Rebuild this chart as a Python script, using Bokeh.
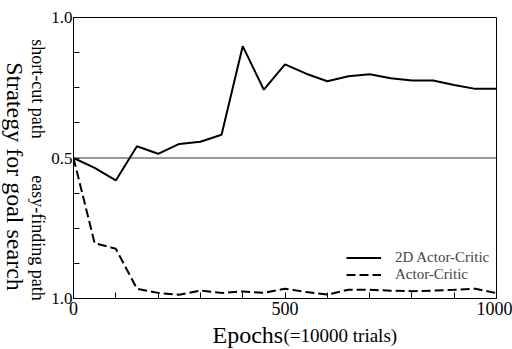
import math
from bokeh.plotting import figure
from bokeh.models import Range1d, FixedTicker, Span, Label, Legend, LegendItem
from bokeh.layouts import row, column
from bokeh.embed import file_html
from bokeh.resources import INLINE

# ---- data ----
epochs = [0, 50, 100, 150, 200, 250, 300, 350, 400, 450, 500,
          550, 600, 650, 700, 750, 800, 850, 900, 950, 1000]
actor_critic_2d = [0.50, 0.465, 0.42, 0.542, 0.515, 0.55, 0.558, 0.583, 0.898, 0.743, 0.833,
                   0.80, 0.773, 0.791, 0.798, 0.784, 0.776, 0.776, 0.76, 0.746, 0.746]
actor_critic = [0.50, 0.197, 0.177, 0.035, 0.02, 0.013, 0.028, 0.02, 0.025, 0.02, 0.035,
                0.023, 0.014, 0.031, 0.031, 0.028, 0.026, 0.028, 0.031, 0.035, 0.019]
series_names = ["2D Actor-Critic", "Actor-Critic"]
y_major = [0.0, 0.5, 1.0]
y_major_labels = ["1.0", "0.5", "1.0"]
y_minor = [0.125, 0.25, 0.375, 0.625, 0.75, 0.875]
x_major = [0, 500, 1000]
x_minor = [100, 200, 300, 400, 600, 700, 800, 900]
y_title = "Strategy for goal search"
y_upper = "short-cut path"
y_lower = "easy-finding path"
x_title = "Epochs"
x_title_note = "(=10000 trials)"

FONT = "Liberation Serif"

LEFT_W = 47
TOTAL_W = 512
TOTAL_H = 349
MAIN_W = TOTAL_W - LEFT_W
MAIN_H = 320
BOTTOM_H = TOTAL_H - MAIN_H

# ---- main plot ----
x_range = Range1d(0, 1000)
p = figure(width=MAIN_W, height=MAIN_H, x_range=x_range, y_range=Range1d(0, 1),
           output_backend="svg", toolbar_location=None, title=None,
           min_border_left=26, min_border_right=16, min_border_top=17, min_border_bottom=22)
p.xgrid.visible = False
p.ygrid.visible = False
p.background_fill_color = "white"
p.border_fill_color = "white"
p.outline_line_color = "black"
p.outline_line_width = 1
p.outline_line_alpha = 1.0

p.yaxis.ticker = FixedTicker(ticks=y_major, minor_ticks=y_minor)
p.yaxis.major_label_overrides = {t: l for t, l in zip(y_major, y_major_labels)}
p.xaxis.ticker = FixedTicker(ticks=x_major, minor_ticks=x_minor)
for ax in (p.xaxis, p.yaxis):
    ax.major_tick_in = 6
    ax.major_tick_out = 0
    ax.minor_tick_in = 6
    ax.minor_tick_out = 0
    ax.axis_line_color = "black"
    ax.major_tick_line_color = "black"
    ax.minor_tick_line_color = "black"
    ax.major_label_text_font = FONT
    ax.major_label_text_color = "black"
    ax.axis_label = None
p.yaxis.major_label_text_font_size = "17px"
p.xaxis.major_label_text_font_size = "18px"
p.yaxis.major_label_standoff = 1
p.xaxis.major_label_standoff = 3

p.add_layout(Span(location=0.5, dimension="width", line_color="#333333", line_width=1))

r1 = p.line(epochs, actor_critic_2d, line_color="black", line_width=2)
r2 = p.line(epochs, actor_critic, line_color="black", line_width=2, line_dash="9 4")

legend = Legend(items=[LegendItem(label=series_names[0], renderers=[r1]),
                       LegendItem(label=series_names[1], renderers=[r2])],
                location=(273, 15), padding=0, margin=0, spacing=-2,
                glyph_width=35, glyph_height=15, label_height=15, label_standoff=14,
                label_text_font=FONT, label_text_font_size="15px",
                border_line_color=None, background_fill_alpha=0)
p.add_layout(legend)

# ---- left strip with the y-axis titles (page pixel coordinates) ----
left = figure(width=LEFT_W, height=TOTAL_H, x_range=Range1d(0, LEFT_W), y_range=Range1d(0, TOTAL_H),
              output_backend="svg", toolbar_location=None, title=None,
              x_axis_type=None, y_axis_type=None, min_border=0,
              outline_line_color=None, border_fill_color="white", background_fill_color="white")
left.add_layout(Label(x=14, y=TOTAL_H - 176, text=y_title,
                      angle=-math.pi / 2, text_align="center", text_baseline="middle",
                      text_font=FONT, text_font_size="24px", text_color="black"))
left.add_layout(Label(x=37, y=TOTAL_H - 88.5, text=y_upper,
                      angle=-math.pi / 2, text_align="center", text_baseline="middle",
                      text_font=FONT, text_font_size="18px", text_color="black"))
left.add_layout(Label(x=37, y=TOTAL_H - 237.5, text=y_lower,
                      angle=-math.pi / 2, text_align="center", text_baseline="middle",
                      text_font=FONT, text_font_size="18px", text_color="black"))

# ---- bottom strip with the x-axis title (its frame lines up with the main frame) ----
bottom = figure(width=MAIN_W, height=BOTTOM_H, x_range=x_range, y_range=Range1d(0, BOTTOM_H),
                output_backend="svg", toolbar_location=None, title=None,
                x_axis_type=None, y_axis_type=None, min_border=0,
                outline_line_color=None, border_fill_color="white", background_fill_color="white")
px_per_unit = 423.0 / 1000.0
title_x = (212 - 73) / px_per_unit
bottom.add_layout(Label(x=title_x, y=15, text=x_title,
                        text_align="left", text_baseline="middle",
                        text_font=FONT, text_font_size="24px", text_color="black"))
bottom.add_layout(Label(x=title_x + 71 / px_per_unit, y=14, text=x_title_note,
                        text_align="left", text_baseline="middle",
                        text_font=FONT, text_font_size="19px", text_color="black"))

layout = row(left, column(p, bottom, spacing=0), spacing=0)

open("out.html", "w").write(file_html(layout, INLINE))
